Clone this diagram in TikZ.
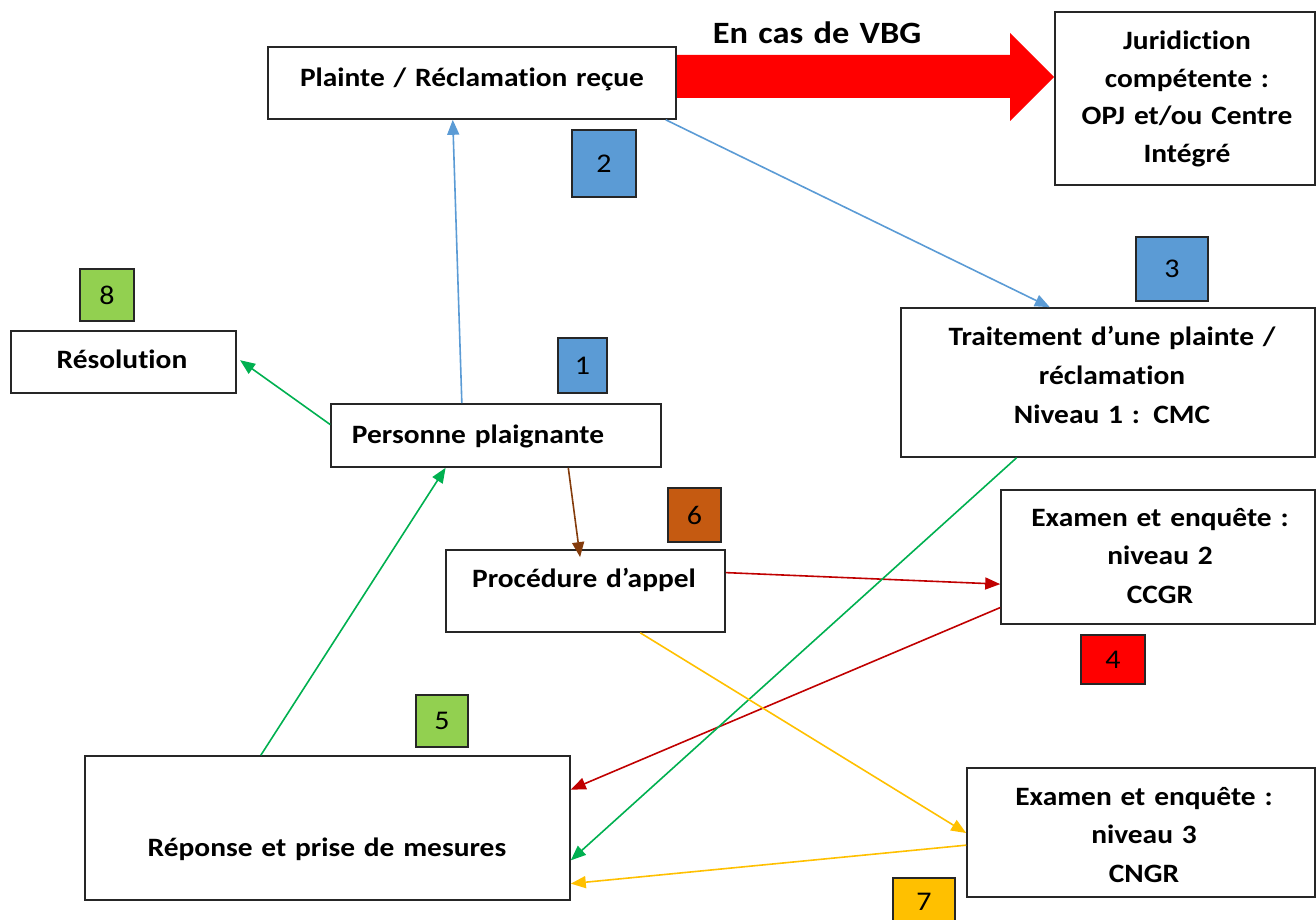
\documentclass[tikz,border=0pt]{standalone}
\usepackage{fontspec}
\setmainfont{Carlito}[FakeStretch=1.11,Ligatures=NoCommon]
\usetikzlibrary{arrows.meta,calc}
\definecolor{bblue}{HTML}{5B9BD5}
\definecolor{bgreen}{HTML}{92D050}
\definecolor{borange}{HTML}{C55A11}
\definecolor{bred}{HTML}{FF0000}
\definecolor{byellow}{HTML}{FFC000}
\definecolor{lgreen}{HTML}{00B050}
\definecolor{lred}{HTML}{C00000}
\definecolor{lbrown}{HTML}{843C0C}
\definecolor{lblue}{HTML}{5B9BD5}
\definecolor{edge}{HTML}{262626}
\begin{document}
\begin{tikzpicture}[x=1pt,y=-1pt,
  box/.style={draw=edge,line width=1.6pt,fill=white,inner sep=0pt,rectangle},
  badge/.style={draw=edge,line width=1.4pt,inner sep=0pt,rectangle,
    font=\fontsize{27}{30}\selectfont},
  lbl/.style={anchor=base,inner sep=0pt,text width=600pt,align=center,
    font=\fontsize{26.5}{38}\selectfont\bfseries},
  conn/.style={line width=1.6pt,-{Triangle[length=15pt,width=12pt]}},
]
\useasboundingbox (0,0) rectangle (1316,920);

% big red arrow (drawn first)
\node[box,minimum width=408pt,minimum height=72pt] (plainte) at (472,83) {};
\node[box,minimum width=260pt,minimum height=173pt] (jur) at (1185,98.5) {};
\fill[bred] (plainte.east |- 0,55) -- (1010,55) -- (1010,33) -- (jur.west |- 0,77)
   -- (1010,121) -- (1010,98) -- (plainte.east |- 0,98) -- cycle;
\node[box,minimum width=408pt,minimum height=72pt] at (plainte) {};

% boxes
\node[box,minimum width=414pt,minimum height=149pt] (trait) at (1108,382.5) {};
\node[box,minimum width=225pt,minimum height=62pt] (resol) at (123.5,362) {};
\node[box,minimum width=330pt,minimum height=63pt] (pers) at (496,435.5) {};
\node[box,minimum width=279pt,minimum height=82pt] (proc) at (585.5,591) {};
\node[box,minimum width=314pt,minimum height=134pt] (exam2) at (1158,557) {};
\node[box,minimum width=485pt,minimum height=144pt] (rep) at (327.5,828) {};
\node[box,minimum width=348pt,minimum height=129pt] (exam3) at (1141,832.5) {};

% badges
\node[badge,fill=bblue,minimum width=64pt,minimum height=67pt] (b2) at (604,163.5) {2};
\node[badge,fill=bblue,minimum width=72pt,minimum height=64pt] (b3) at (1172,269) {3};
\node[badge,fill=bgreen,minimum width=54pt,minimum height=52pt] (b8) at (107,295) {8};
\node[badge,fill=bblue,minimum width=49pt,minimum height=55pt] (b1) at (582.5,365.5) {1};
\node[badge,fill=borange,minimum width=53pt,minimum height=54pt] (b6) at (694.5,515) {6};
\node[badge,fill=bred,minimum width=64pt,minimum height=49pt] (b4) at (1113,659.5) {4};
\node[badge,fill=bgreen,minimum width=52pt,minimum height=52pt] (b5) at (442,721) {5};
\node[badge,fill=byellow,minimum width=62pt,minimum height=47pt] (b7) at (924,901.5) {7};

% labels
\node[lbl] (tplainte) at (472,87) {Plainte / Réclamation reçue};
\node[lbl,font=\fontsize{31}{36}\selectfont\bfseries] (tvbg) at (817,44) {En cas de VBG};
\node[lbl,font=\fontsize{26.5}{37.4}\selectfont\bfseries] (tjur) at (1187,50)
  {Juridiction\\compétente :\\OPJ et/ou Centre\\Intégré};
\node[lbl,font=\fontsize{26.5}{39}\selectfont\bfseries] (ttrait) at (1112,345)
  {Traitement d’une plainte /\\réclamation\\Niveau 1 : CMC};
\node[lbl] (tresol) at (122,368) {Résolution};
\node[lbl] (tpers) at (478,443) {Personne plaignante};
\node[lbl] (tproc) at (584,587) {Procédure d’appel};
\node[lbl,font=\fontsize{26.5}{38.5}\selectfont\bfseries] (texam2) at (1160,526)
  {Examen et enquête :\\niveau 2\\CCGR};
\node[lbl] (trep) at (327,856) {Réponse et prise de mesures};
\node[lbl,font=\fontsize{26.5}{38.5}\selectfont\bfseries] (texam3) at (1144,805)
  {Examen et enquête :\\niveau 3\\CNGR};

% connectors
\draw[conn,lblue] ($(pers.north west)!0.397!(pers.north east)$) -- ($(plainte.south west)!0.453!(plainte.south east)$);
\draw[conn,lblue] ($(plainte.south west)!0.973!(plainte.south east)$) -- ($(trait.north west)!0.36!(trait.north east)$);
\draw[conn,lgreen,shorten >=4pt] ($(pers.north west)!0.33!(pers.south west)$) -- ($(resol.north east)!0.435!(resol.south east)$);
\draw[conn,lbrown,shorten >=-8pt] ($(pers.south west)!0.718!(pers.south east)$) -- ($(proc.north west)!0.477!(proc.north east)$);
\draw[conn,lred] ($(proc.north east)!0.28!(proc.south east)$) -- ($(exam2.north west)!0.70!(exam2.south west)$);
\draw[conn,lred] ($(exam2.north west)!0.873!(exam2.south west)$) -- ($(rep.north east)!0.236!(rep.south east)$);
\draw[conn,lgreen] ($(trait.south west)!0.28!(trait.south east)$) -- ($(rep.north east)!0.722!(rep.south east)$);
\draw[conn,lgreen] ($(rep.north west)!0.363!(rep.north east)$) -- ($(pers.south west)!0.348!(pers.south east)$);
\draw[conn,byellow] ($(proc.south west)!0.695!(proc.south east)$) -- ($(exam3.north west)!0.504!(exam3.south west)$);
\draw[conn,byellow] ($(exam3.north west)!0.597!(exam3.south west)$) -- ($(rep.north east)!0.882!(rep.south east)$);
\end{tikzpicture}
\end{document}
